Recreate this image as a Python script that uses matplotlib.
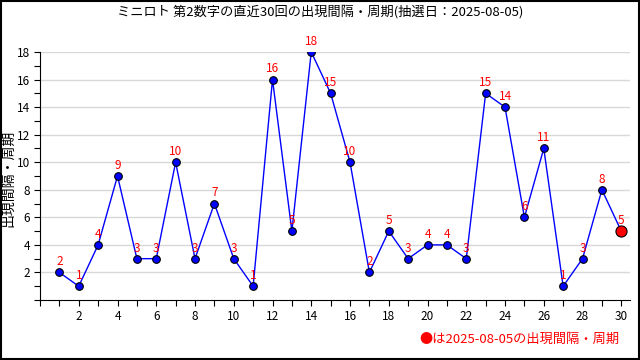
import matplotlib
matplotlib.use("Agg")
import matplotlib.pyplot as plt
from matplotlib.ticker import MultipleLocator
from matplotlib.patches import Rectangle

plt.rcParams['font.family'] = ['Noto Sans CJK JP', 'DejaVu Sans']

draws = list(range(1, 31))
values = [2, 1, 4, 9, 3, 3, 10, 3, 7, 3, 1, 16, 5, 18, 15, 10, 2, 5, 3, 4, 4, 3, 15, 14, 6, 11, 1, 3, 8, 5]
title = "ミニロト 第2数字の直近30回の出現間隔・周期(抽選日：2025-08-05)"
ylabel = "出現間隔・周期"
note = "●は2025-08-05の出現間隔・周期"

fig = plt.figure(figsize=(6.4, 3.6), dpi=100)
ax = fig.add_axes([40/640, 60/360, 590/640, 248/360])

ax.plot(draws, values, color='#0000ff', lw=1, marker='o', ms=5.5,
        mfc='#0000ff', mec='black', mew=0.8, zorder=3)
ax.plot(draws[-1:], values[-1:], 'o', ms=8, mfc='#ff0000', mec='black', mew=0.8, zorder=4)
for x, v in zip(draws, values):
    ax.annotate(str(v), (x, v), xytext=(0, 3), textcoords='offset points',
                ha='center', va='bottom', color='red', fontsize=8.5, zorder=5)

ax.set_xlim(0, 30.45)
ax.set_ylim(0, 18)
ax.xaxis.set_minor_locator(MultipleLocator(1))
ax.yaxis.set_minor_locator(MultipleLocator(1))
ax.set_yticks(range(2, 19, 2))
ax.set_xticks(range(2, 31, 2))
ax.grid(axis='y', which='major', color='#d8d8d8', lw=1, zorder=0)
ax.spines['top'].set_visible(False)
ax.spines['right'].set_visible(False)
ax.tick_params(which='both', direction='out', length=4, width=0.8, labelsize=8.5)
ax.tick_params(axis='x', pad=3)
ax.tick_params(axis='y', pad=3)

fig.text(8/640, 1 - 178/360, ylabel, rotation=90, ha='center', va='center', fontsize=10)
fig.text(0.5, 1 - 12/360, title, ha='center', va='center', fontsize=9.5)
fig.text(620/640, 1 - 339/360, note, ha='right', va='center', color='red', fontsize=9.5)

fig.patches.append(Rectangle((0.001, 0.002), 0.997, 0.996, transform=fig.transFigure,
                             fill=False, edgecolor='black', lw=1.5))

fig.savefig("out.png", dpi=100)
